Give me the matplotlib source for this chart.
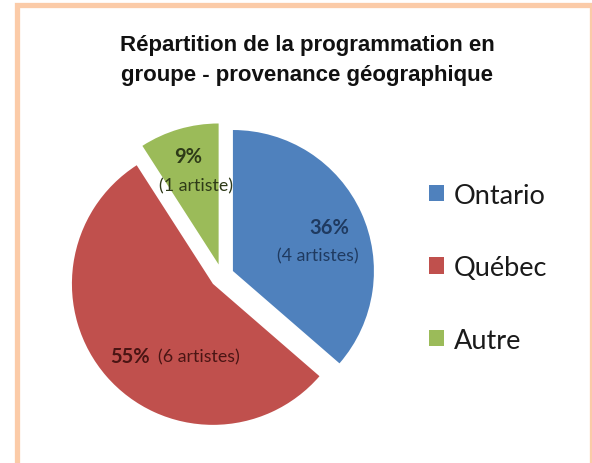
import matplotlib
matplotlib.use("Agg")
import matplotlib.pyplot as plt
from matplotlib.patches import Rectangle

categories = ["Ontario", "Québec", "Autre"]
artists = [4, 6, 1]
pct_labels = ["36%", "55%", "9%"]
count_labels = ["(4 artistes)", "(6 artistes)", "(1 artiste)"]
colors = ["#4F81BD", "#C0504D", "#9BBB59"]
text_colors = ["#1F3A60", "#4A1514", "#2E3A18"]

W, H = 592, 464
fig = plt.figure(figsize=(W / 100, H / 100), dpi=100)
ax = fig.add_axes([0, 0, 1, 1])

# frame
ax.add_patch(Rectangle((16.5, -20), 575, H - 5.5 + 20, fill=False,
                       edgecolor="#FBCBA8", linewidth=3.8, zorder=0))

cx, cy = 222, H - 277
r = 141
wedges, _ = ax.pie(artists, colors=colors, startangle=90, counterclock=False,
                   radius=r, center=(cx, cy), explode=[12] * 3,
                   wedgeprops=dict(linewidth=0), frame=True)
ax.set_xlim(0, W)
ax.set_ylim(0, H)
ax.set_aspect("equal")
ax.axis("off")

fam = ["Lato", "DejaVu Sans"]
pfs, cfs = 14.5, 12.8
# labels
ax.text(329, H - 228, pct_labels[0], ha="center", va="center", fontsize=pfs,
        color=text_colors[0], family=fam, fontweight="bold")
ax.text(318, H - 256, count_labels[0], ha="center", va="center", fontsize=cfs,
        color=text_colors[0], family=fam)
ax.text(110, H - 357, pct_labels[1], ha="left", va="center", fontsize=pfs,
        color=text_colors[1], family=fam, fontweight="bold")
ax.text(158, H - 357, count_labels[1], ha="left", va="center", fontsize=cfs,
        color=text_colors[1], family=fam)
ax.text(188, H - 157, pct_labels[2], ha="center", va="center", fontsize=pfs,
        color=text_colors[2], family=fam, fontweight="bold")
ax.text(196, H - 186, count_labels[2], ha="center", va="center", fontsize=cfs,
        color=text_colors[2], family=fam)

# title
ax.text(307, H - 45, "Répartition de la programmation en", ha="center",
        va="center", fontsize=16, fontweight="bold", family="Liberation Sans",
        color="#111111")
ax.text(307, H - 75, "groupe - provenance géographique", ha="center",
        va="center", fontsize=16, fontweight="bold", family="Liberation Sans",
        color="#111111")

leg = ax.legend(wedges, categories, loc="upper left",
                bbox_to_anchor=(418 / W, 1 - 173 / H), frameon=False,
                handlelength=0.55, handleheight=0.55,
                handletextpad=0.38, labelspacing=1.75, borderaxespad=0,
                prop=dict(family=fam, size=19.5))
for t in leg.get_texts():
    t.set_color("#1a1a1a")

fig.savefig("out.png", dpi=100)
